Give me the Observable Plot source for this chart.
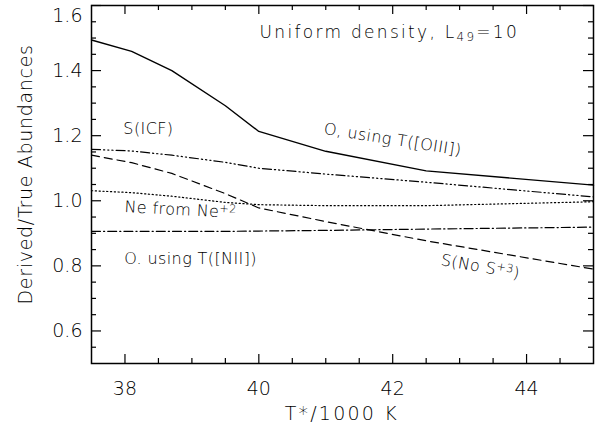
<!DOCTYPE html>
<html><head><meta charset="utf-8">
<script src="https://cdn.jsdelivr.net/npm/d3@7"></script>
<script src="https://cdn.jsdelivr.net/npm/@observablehq/plot@0.6"></script>
<style>body{margin:0;background:#fff}svg{display:block}</style>
</head><body><div id="chart"></div>
<script>
// Stellar temperature T*/1000 K
const temps = [37.5, 38.1, 38.7, 39.5, 40.0, 41.0, 42.5, 45.0];
// Derived / true abundance ratios
const oOIII = [1.494, 1.459, 1.400, 1.292, 1.213, 1.152, 1.092, 1.048];
const sICF  = [1.158, 1.153, 1.140, 1.118, 1.100, 1.082, 1.057, 1.012];
const sNoS3 = [1.140, 1.117, 1.084, 1.022, 0.978, 0.936, 0.877, 0.790];
const neNe2 = [1.031, 1.025, 1.014, 0.995, 0.988, 0.985, 0.985, 0.997];
const oNII  = [0.906, 0.906, 0.906, 0.906, 0.907, 0.909, 0.913, 0.919];

const xMajor = [38, 40, 42, 44];
const xMinor = [38.5, 39, 39.5, 40.5, 41, 41.5, 42.5, 43, 43.5, 44.5];
const yMajor = [0.6, 0.8, 1.0, 1.2, 1.4, 1.6];
const yMinor = [0.55, 0.65, 0.7, 0.75, 0.85, 0.9, 0.95, 1.05, 1.1, 1.15, 1.25, 1.3, 1.35, 1.45, 1.5, 1.55];

const title = "Uniform density, L_{49}=10";
const xTitle = "T*/1000 K";
const yTitle = "Derived/True Abundances";

const labels = [
  {x: 38.35, y: 1.222, text: "S(ICF)", rotate: 0},
  {x: 38.83, y: 0.972, text: "Ne from Ne^{+2}", rotate: 3},
  {x: 38.98, y: 0.823, text: "O. using T([NII])", rotate: 0},
  {x: 42.0, y: 1.188, text: "O, using T([OIII])", rotate: 9},
  {x: 43.31, y: 0.797, text: "S(No S^{+3})", rotate: 10}
];

const series = [
  {vals: oOIII, dash: null, w: 1.4},
  {vals: sICF, dash: "9,3,1.2,3,1.2,3,1.2,3", w: 1.2},
  {vals: sNoS3, dash: "8,5", w: 1.2},
  {vals: neNe2, dash: "1.2,2.6", w: 1.2},
  {vals: oNII, dash: "9,3,1.2,3", w: 1.2}
];

const W = 601, H = 426, mL = 91, mR = 8, mT = 5, mB = 63;
const innerH = H - mT - mB, innerW = W - mL - mR;
const font = "DejaVu Sans, Liberation Sans, Arial, sans-serif";
const fw = 200;

const lineMarks = series.map(s => Plot.line(temps.map((t, i) => ({t, v: s.vals[i]})), {
  x: "t", y: "v", stroke: "black", strokeWidth: s.w, strokeDasharray: s.dash, strokeLinejoin: "round"
}));

const txt = (data, opts) => Plot.text(data, {fill: "black", fontWeight: fw, lineAnchor: "middle", ...opts});

const plot = Plot.plot({
  width: W, height: H,
  marginLeft: mL, marginRight: mR, marginTop: mT, marginBottom: mB,
  style: {fontFamily: font, background: "white", color: "black", overflow: "visible"},
  x: {domain: [37.5, 45], axis: null},
  y: {domain: [0.5, 1.6], axis: null},
  marks: [
    ...lineMarks,
    // ticks: bottom
    Plot.tickX(xMajor, {x: d => d, insetTop: innerH - 9, stroke: "black", strokeWidth: 1.2}),
    Plot.tickX(xMinor, {x: d => d, insetTop: innerH - 5, stroke: "black", strokeWidth: 1.2}),
    // top
    Plot.tickX(xMajor, {x: d => d, insetBottom: innerH - 9, stroke: "black", strokeWidth: 1.2}),
    Plot.tickX(xMinor, {x: d => d, insetBottom: innerH - 5, stroke: "black", strokeWidth: 1.2}),
    // left
    Plot.tickY(yMajor, {y: d => d, insetRight: innerW - 10, stroke: "black", strokeWidth: 1.2}),
    Plot.tickY(yMinor, {y: d => d, insetRight: innerW - 5, stroke: "black", strokeWidth: 1.2}),
    // right
    Plot.tickY(yMajor, {y: d => d, insetLeft: innerW - 10, stroke: "black", strokeWidth: 1.2}),
    Plot.tickY(yMinor, {y: d => d, insetLeft: innerW - 5, stroke: "black", strokeWidth: 1.2}),
    Plot.frame({stroke: "black", strokeWidth: 1.5}),
    // tick labels
    txt(xMajor, {x: d => d, frameAnchor: "bottom", dy: 25, text: d => String(d), fontSize: 19, textAnchor: "middle"}),
    txt(yMajor.filter(v => v < 1.55), {y: d => d, frameAnchor: "left", dx: -9, text: d => d3.format(".1f")(d), fontSize: 19, textAnchor: "end"}),
    txt(yMajor.filter(v => v >= 1.55), {y: d => d, frameAnchor: "left", dx: -9, dy: 10, text: d => d3.format(".1f")(d), fontSize: 19, textAnchor: "end"}),
    // axis titles
    txt([xTitle], {x: 41.24, frameAnchor: "bottom", dy: 50, text: d => d, fontSize: 19, textAnchor: "middle", ariaLabel: () => "xtitle"}),
    txt([yTitle], {y: 1.081, frameAnchor: "left", dx: -66, rotate: -90, text: d => d, fontSize: 19, textAnchor: "middle", ariaLabel: () => "ytitle"}),
    // chart title
    txt([title], {x: 41.95, y: 1.517, text: d => d, fontSize: 17, textAnchor: "middle", ariaLabel: () => "title"}),
    // curve labels
    txt(labels, {x: "x", y: "y", text: "text", rotate: "rotate", fontSize: 16, textAnchor: "middle", ariaLabel: () => "curvelabels"})
  ]
});

const svg = d3.select(plot);
const sel = name => svg.selectAll(`text[aria-label="${name}"]`);
sel("xtitle").style("letter-spacing", "2.2px");
sel("ytitle").style("letter-spacing", "0.7px");
sel("title").style("letter-spacing", "2.3px");
sel("curvelabels").style("letter-spacing", "0.4px");

// rich text: ^{..} superscripts and _{..} subscripts
svg.selectAll("text").each(function() {
  const el = this;
  const s = el.textContent;
  if (!/[\^_]\{/.test(s)) return;
  el.textContent = "";
  const re = /([\^_])\{([^}]*)\}/g;
  let last = 0, m;
  const add = (t, kind) => {
    if (!t) return;
    const ts = document.createElementNS("http://www.w3.org/2000/svg", "tspan");
    ts.textContent = t;
    if (kind === "^") { ts.setAttribute("baseline-shift", "45%"); ts.setAttribute("font-size", "70%"); }
    if (kind === "_") { ts.setAttribute("baseline-shift", "-22%"); ts.setAttribute("font-size", "70%"); }
    el.appendChild(ts);
  };
  while ((m = re.exec(s))) {
    add(s.slice(last, m.index), null);
    add(m[2], m[1]);
    last = re.lastIndex;
  }
  add(s.slice(last), null);
});

document.getElementById("chart").appendChild(plot);
</script>
</body></html>
